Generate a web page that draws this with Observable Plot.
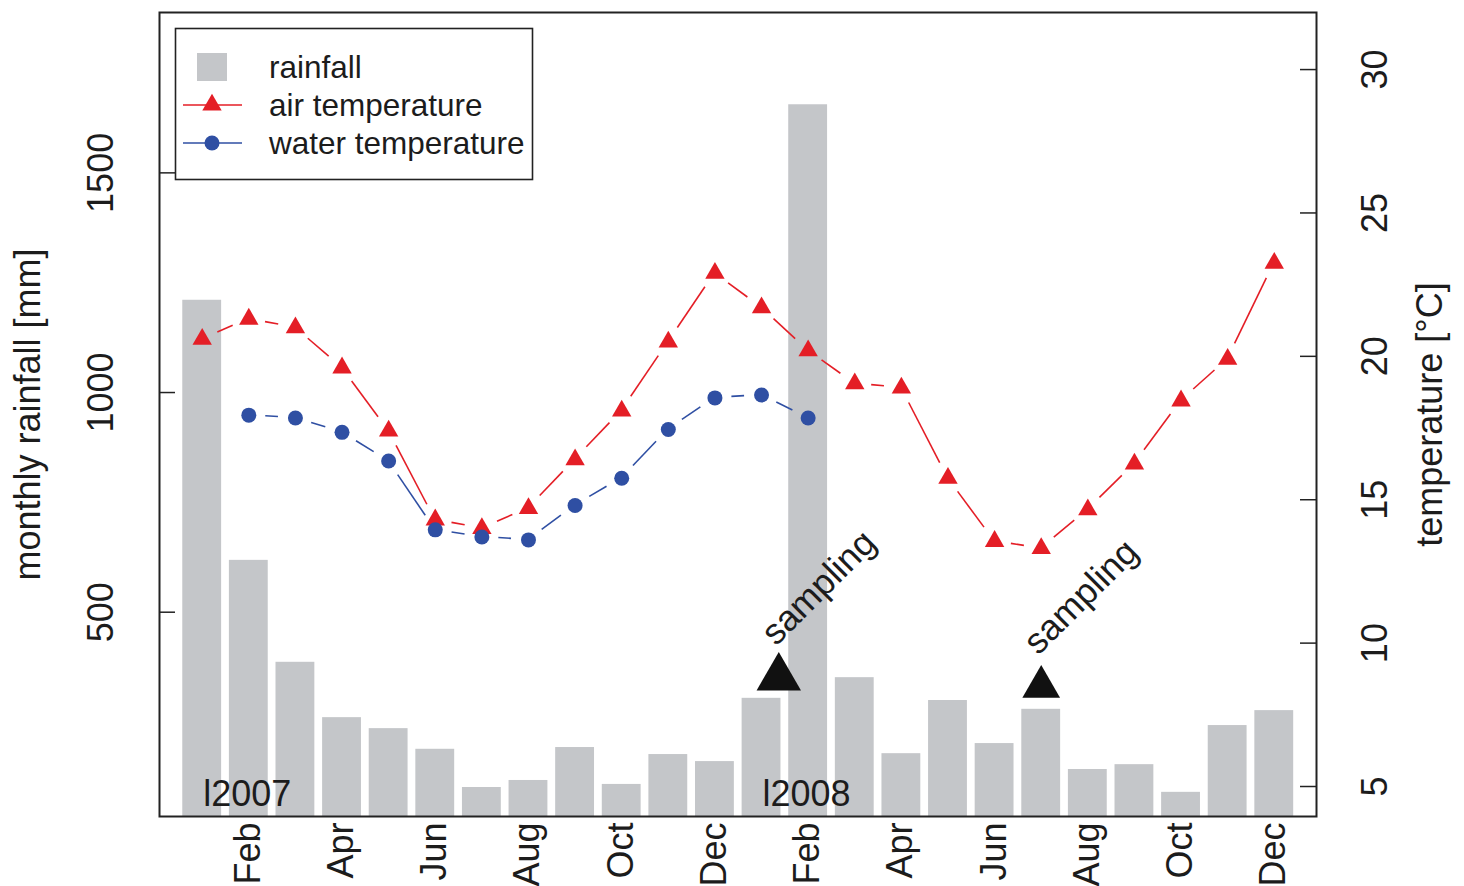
<!DOCTYPE html>
<html><head><meta charset="utf-8">
<script src="https://cdn.jsdelivr.net/npm/d3@7"></script>
<script src="https://cdn.jsdelivr.net/npm/@observablehq/plot@0.6"></script>
<style>
html,body{margin:0;padding:0;background:#fff;}
#chart{position:relative;width:1464px;height:886px;}
</style></head><body><div id="chart"></div>
<script>
// ---- data ----
const months = ["Jan 2007","Feb 2007","Mar 2007","Apr 2007","May 2007","Jun 2007","Jul 2007","Aug 2007","Sep 2007","Oct 2007","Nov 2007","Dec 2007",
                "Jan 2008","Feb 2008","Mar 2008","Apr 2008","May 2008","Jun 2008","Jul 2008","Aug 2008","Sep 2008","Oct 2008","Nov 2008","Dec 2008"];
const rainfall = [1210, 618, 386, 260, 235, 188, 101, 117, 192, 108, 176, 160,
                  304, 1655, 351, 178, 299, 201, 279, 142, 153, 90, 242, 276];
const airTemp = [20.6, 21.3, 21.0, 19.6, 17.4, 14.3, 14.0, 14.7, 16.4, 18.1, 20.5, 22.9,
                 21.7, 20.2, 19.05, 18.9, 15.75, 13.55, 13.3, 14.65, 16.25, 18.45, 19.9, 23.25];
const waterTemp = [null, 17.95, 17.85, 17.35, 16.35, 13.95, 13.7, 13.6, 14.8, 15.75, 17.45, 18.55,
                   18.65, 17.85, null, null, null, null, null, null, null, null, null, null];
const tickMonths = [1, 3, 5, 7, 9, 11, 13, 15, 17, 19, 21, 23];
const tickLabels = ["Feb","Apr","Jun","Aug","Oct","Dec","Feb","Apr","Jun","Aug","Oct","Dec"];
const rainTicks = [500, 1000, 1500];
const tempTicks = [5, 10, 15, 20, 25, 30];
const yearMonths = [0, 12];
const yearLabels = ["l2007", "l2008"];
const samplingMonths = [12.37, 18];
const samplingRain = [351, 330];
const samplingLabel = "sampling";
const legendLabels = ["rainfall", "air temperature", "water temperature"];

// ---- scales setup ----
const rainDomain = [35, 1865];
const tempDomain = [3.954, 31.99];
const xDomain = [-0.916, 23.906];
const toRain = t => rainDomain[0] + (t - tempDomain[0]) / (tempDomain[1] - tempDomain[0]) * (rainDomain[1] - rainDomain[0]);

const RED = "#e41e26", BLUE = "#2f4fa3", GRAY = "#c4c6c9", INK = "#1c1c1c";
const FONT = "'Liberation Sans', Arial, Helvetica, sans-serif";
const FS = 36, FS_LEG = 31.5;
const W = 1464, H = 886, ML = 159, MR = 148, MT = 12, MB = 70;
const frameW = W - ML - MR;
const TICK = 16;

const bars = months.map((m, i) => ({i, m, rain: rainfall[i]}));
const air = months.map((m, i) => ({i, t: airTemp[i]}));
const water = months.map((m, i) => ({i, t: waterTemp[i]})).filter(d => d.t != null);
function segs(arr) {
  const out = [];
  for (let k = 1; k < arr.length; k++) {
    if (arr[k].i === arr[k-1].i + 1) out.push({x1: arr[k-1].i, y1: toRain(arr[k-1].t), x2: arr[k].i, y2: toRain(arr[k].t)});
  }
  return out;
}
// R type="b": segments with gaps around points
function gapRender(gap, color) {
  return function(index, scales, values, dimensions, context, next) {
    const {x1: X1, y1: Y1, x2: X2, y2: Y2} = values;
    const g = d3.create("svg:g");
    for (const i of index) {
      const dx = X2[i] - X1[i], dy = Y2[i] - Y1[i], L = Math.hypot(dx, dy);
      if (L <= 2 * gap) continue;
      const ux = dx / L, uy = dy / L;
      g.append("line")
        .attr("x1", X1[i] + ux * gap).attr("y1", Y1[i] + uy * gap)
        .attr("x2", X2[i] - ux * gap).attr("y2", Y2[i] - uy * gap)
        .attr("stroke", color).attr("stroke-width", 1.6);
    }
    return g.node();
  };
}

const samp = samplingMonths.map((x, k) => ({x, y: samplingRain[k], k}));

const chart = Plot.plot({
  width: W, height: H,
  marginLeft: ML, marginRight: MR, marginTop: MT, marginBottom: MB,
  style: {fontFamily: FONT, fontSize: FS + "px", background: "white", color: INK},
  x: {type: "linear", domain: xDomain, axis: null},
  y: {type: "linear", domain: rainDomain, axis: null},
  marks: [
    Plot.rectY(bars, {x1: d => d.i - 0.4167, x2: d => d.i + 0.4167, y1: 0, y2: "rain", fill: GRAY, clip: true}),
    Plot.link(segs(air), {x1: "x1", y1: "y1", x2: "x2", y2: "y2", stroke: RED, strokeWidth: 1.6, render: gapRender(17, RED)}),
    Plot.link(segs(water), {x1: "x1", y1: "y1", x2: "x2", y2: "y2", stroke: BLUE, strokeWidth: 1.6, render: gapRender(17, BLUE)}),
    Plot.dot(air, {x: "i", y: d => toRain(d.t), symbol: "triangle", r: 7.2, fill: RED, stroke: null}),
    Plot.dot(water, {x: "i", y: d => toRain(d.t), symbol: "circle", r: 7.5, fill: BLUE, stroke: null}),
    // sampling markers
    Plot.dot(samp.filter(d => d.k === 0), {x: "x", y: "y", symbol: "triangle", r: 16.5, fill: "#111", stroke: null}),
    Plot.dot(samp.filter(d => d.k === 1), {x: "x", y: "y", symbol: "triangle", r: 14, fill: "#111", stroke: null}),
    Plot.text(samp, {x: "x", y: "y", text: () => samplingLabel, rotate: -45, textAnchor: "start", dx: -11, dy: -39, fontSize: FS, fill: INK}),
    // year labels
    Plot.text(yearMonths, {x: d => d, frameAnchor: "bottom", text: (d, k) => yearLabels[k], textAnchor: "start", dx: 1, dy: -11, lineAnchor: "bottom", fontSize: FS, fill: INK}),
    // frame
    Plot.frame({stroke: "#222", strokeWidth: 2}),
    // left axis: inward ticks + labels
    Plot.ruleY(rainTicks, {y: d => d, insetRight: frameW - TICK, stroke: "#222", strokeWidth: 1.5}),
    Plot.text(rainTicks, {y: d => d, frameAnchor: "left", text: d => String(d), rotate: -90, textAnchor: "middle", dx: -58, fontSize: FS, fill: INK}),
    Plot.text(["monthly rainfall [mm]"], {frameAnchor: "left", text: d => d, rotate: -90, textAnchor: "middle", dx: -131, fontSize: FS, fill: INK}),
    // right axis
    Plot.ruleY(tempTicks, {y: d => toRain(d), insetLeft: frameW - TICK, stroke: "#222", strokeWidth: 1.5}),
    Plot.text(tempTicks, {y: d => toRain(d), frameAnchor: "right", text: d => String(d), rotate: -90, textAnchor: "middle", dx: 59, fontSize: FS, fill: INK}),
    Plot.text(["temperature [°C]"], {frameAnchor: "right", text: d => d, rotate: -90, textAnchor: "middle", dx: 114, fontSize: FS, fill: INK}),
    // bottom month labels
    Plot.text(tickMonths, {x: d => d, frameAnchor: "bottom", text: (d, k) => tickLabels[k], rotate: -90, textAnchor: "end", dx: 11, dy: 6, fontSize: FS, fill: INK})
  ]
});

// legend (inside plot, top-left)
const svg = d3.select(chart);
const lg = svg.append("g").attr("font-family", FONT).attr("font-size", FS_LEG).attr("fill", INK).attr("text-anchor", "start");
lg.append("rect").attr("x", 175.5).attr("y", 28.5).attr("width", 357).attr("height", 151)
  .attr("fill", "white").attr("stroke", "#222").attr("stroke-width", 1.6);
const rowY = [67, 105, 143];
lg.append("rect").attr("x", 197).attr("y", rowY[0] - 14).attr("width", 30).attr("height", 28).attr("fill", GRAY);
lg.append("line").attr("x1", 183).attr("x2", 242).attr("y1", rowY[1]).attr("y2", rowY[1]).attr("stroke", RED).attr("stroke-width", 1.7);
lg.append("path").attr("d", d3.symbol(d3.symbolTriangle, Math.PI * 7.2 * 7.2)()).attr("transform", `translate(212,${rowY[1]})`).attr("fill", RED);
lg.append("line").attr("x1", 183).attr("x2", 242).attr("y1", rowY[2]).attr("y2", rowY[2]).attr("stroke", BLUE).attr("stroke-width", 1.7);
lg.append("circle").attr("cx", 212).attr("cy", rowY[2]).attr("r", 7.5).attr("fill", BLUE);
legendLabels.forEach((t, k) => {
  lg.append("text").attr("x", 269).attr("y", rowY[k]).attr("dy", "0.35em").attr("text-anchor", "start").text(t);
});

document.getElementById("chart").appendChild(chart);
</script></body></html>
